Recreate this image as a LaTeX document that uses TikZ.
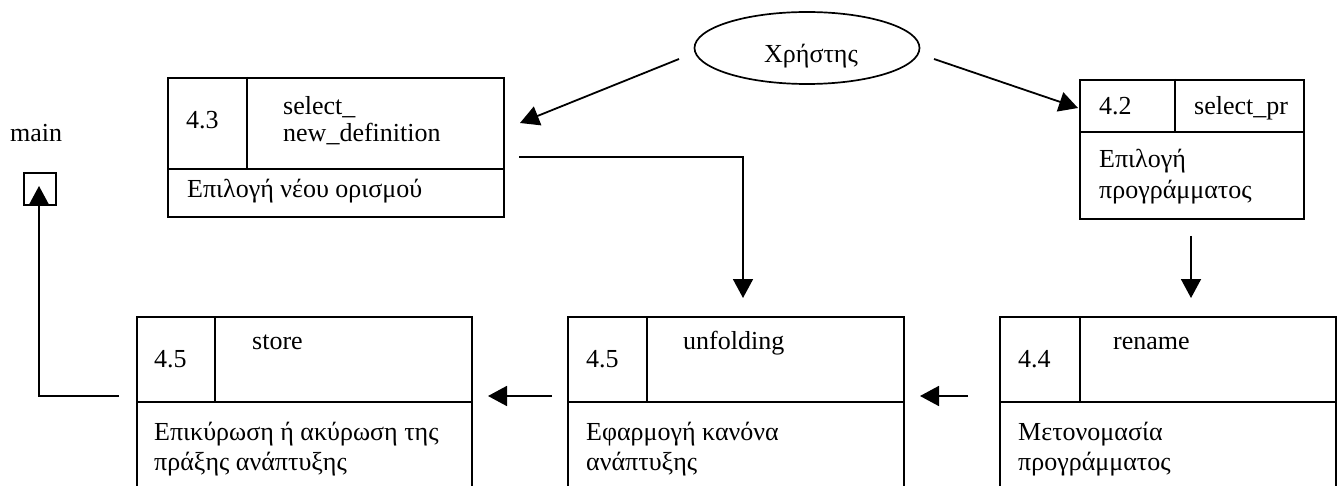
\documentclass[tikz,border=0pt]{standalone}
\usepackage{fontspec}
\setmainfont{Liberation Serif}
\usetikzlibrary{shapes.geometric,arrows.meta}
\begin{document}
\begin{tikzpicture}[x=1pt,y=-1pt,
  box/.style={draw, line width=1.9pt, rectangle, anchor=north west, inner sep=0pt},
  part/.style={line width=1.9pt},
  lbl/.style={anchor=base west, inner sep=0pt, font=\fontsize{26}{31}\selectfont},
  flow/.style={line width=1.8pt, -{Triangle[length=19pt,width=20pt]}}]
\useasboundingbox (0,0) rectangle (1340,486);
\clip (0,0) rectangle (1340,486);

% actor
\node[draw, ellipse, line width=1.7pt, minimum width=225pt, minimum height=72pt, inner sep=0pt] (user) at (807,48) {};
\node[lbl, anchor=base] (userlbl) at (811,63) {Χρήστης};

% process 4.3
\node[box, minimum width=336pt, minimum height=139pt] (b43) at (167,77) {};
\draw[part] (247,77) -- (247,169);
\draw[part] (167,169) -- (503,169);
\node[lbl] (b43n) at (186,129) {4.3};
\node[lbl] (b43a) at (283,115) {select\_};
\node[lbl] (b43b) at (283,142) {new\_definition};
\node[lbl] (b43d) at (187,198) {Επιλογή νέου ορισμού};

% process 4.2
\node[box, minimum width=224pt, minimum height=139pt] (b42) at (1079,79) {};
\draw[part] (1175,79) -- (1175,132);
\draw[part] (1079,132) -- (1303,132);
\node[lbl] (b42n) at (1099,115) {4.2};
\node[lbl] (b42a) at (1194,115) {select\_pr};
\node[lbl] (b42d1) at (1099,168) {Επιλογή};
\node[lbl] (b42d2) at (1099,199) {προγράμματος};

% process 4.5 (store)
\node[box, minimum width=335pt, minimum height=200pt] (bst) at (136,316) {};
\draw[part] (215,316) -- (215,402);
\draw[part] (136,402) -- (471,402);
\node[lbl] (bstn) at (154,367) {4.5};
\node[lbl] (bsta) at (252,349) {store};
\node[lbl] (bstd1) at (154,440) {Επικύρωση ή ακύρωση της};
\node[lbl] (bstd2) at (154,470) {πράξης ανάπτυξης};

% process 4.5 (unfolding)
\node[box, minimum width=336pt, minimum height=200pt] (bun) at (567,316) {};
\draw[part] (647,316) -- (647,402);
\draw[part] (567,402) -- (903,402);
\node[lbl] (bunn) at (586,367) {4.5};
\node[lbl] (buna) at (683,349) {unfolding};
\node[lbl] (bund1) at (586,440) {Εφαρμογή κανόνα};
\node[lbl] (bund2) at (586,470) {ανάπτυξης};

% process 4.4
\node[box, minimum width=336pt, minimum height=200pt] (brn) at (999,316) {};
\draw[part] (1080,316) -- (1080,402);
\draw[part] (999,402) -- (1335,402);
\node[lbl] (brnn) at (1018,367) {4.4};
\node[lbl] (brna) at (1113,349) {rename};
\node[lbl] (brnd1) at (1018,440) {Μετονομασία};
\node[lbl] (brnd2) at (1018,470) {προγράμματος};

% return point
\node[lbl] (mainlbl) at (10,142) {main};
\node[box, line width=1.7pt, minimum width=32pt, minimum height=32pt] (mainbox) at (23,172) {};

% connector ends
\coordinate (uL) at (679,59);
\coordinate (uR) at (934,59);
\coordinate (b43in) at (520,123);
\coordinate (b42in) at (1078,108);
\coordinate (b43out) at (519,157);
\coordinate (bunin) at (743,298);
\coordinate (b42out) at (1191,236);
\coordinate (brnin) at (1191,298);
\coordinate (brnout) at (968,396);
\coordinate (bunout1) at (920,396);
\coordinate (bunout) at (552,396);
\coordinate (bstin) at (488,396);
\coordinate (bstout) at (119,396);
\coordinate (mainin) at (39,186);

\draw[flow] (uL) -- (b43in);
\draw[flow] (uR) -- (b42in);
\draw[flow] (b43out) -| (bunin);
\draw[flow] (b42out) -- (brnin);
\draw[flow] (brnout) -- (bunout1);
\draw[flow] (bunout) -- (bstin);
\draw[flow] (bstout) -| (mainin);
\end{tikzpicture}
\end{document}
